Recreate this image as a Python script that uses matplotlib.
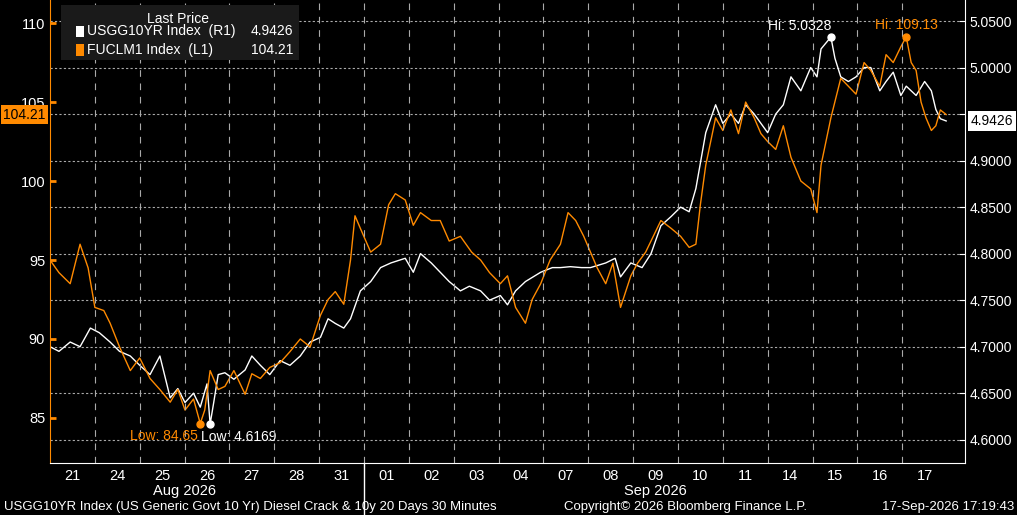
import numpy as np
import matplotlib.pyplot as plt

# trading-day positions (0 = start of 21 Aug)
days = ['21', '24', '25', '26', '27', '28', '31', '01', '02', '03',
        '04', '07', '08', '09', '10', '11', '14', '15', '16', '17']

diesel_t = [0, 0.2, 0.45, 0.67, 0.85, 1.0, 1.2, 1.34, 1.55, 1.79, 2.0, 2.23, 2.45, 2.68, 2.85,
            3.01, 3.2, 3.35, 3.45, 3.57, 3.75, 3.9, 4.1, 4.35, 4.5, 4.69, 4.9, 5.13, 5.35, 5.58,
            5.8, 6.03, 6.2, 6.36, 6.55, 6.7, 6.8, 6.92, 7.15, 7.37, 7.55, 7.7, 7.92, 8.1, 8.26,
            8.5, 8.7, 8.9, 9.15, 9.4, 9.6, 9.8, 10.04, 10.2, 10.38, 10.6, 10.75, 10.94, 11.15,
            11.38, 11.55, 11.72, 11.9, 12.05, 12.2, 12.39, 12.55, 12.72, 12.95, 13.1, 13.28,
            13.45, 13.62, 13.85, 14.06, 14.25, 14.4, 14.5, 14.62, 14.84, 15.0, 15.18, 15.35,
            15.51, 15.7, 15.85, 16.0, 16.18, 16.35, 16.52, 16.74, 16.96, 17.1, 17.19, 17.41,
            17.63, 17.8, 17.97, 18.15, 18.3, 18.5, 18.64, 18.8, 18.97, 19.09, 19.2, 19.31,
            19.42, 19.53, 19.65, 19.75, 19.85, 19.98]
diesel = [95.0, 94.2, 93.5, 96.0, 94.5, 92.0, 91.8, 91.0, 89.5, 88.0, 88.8, 87.5, 86.8, 86.0, 86.8,
          85.5, 86.2, 84.65, 85.5, 88.0, 86.8, 87.0, 88.0, 86.5, 87.8, 87.5, 88.2, 88.5, 89.2, 90.0,
          89.5, 91.5, 92.5, 93.0, 92.2, 95.0, 97.8, 97.0, 95.5, 96.0, 98.5, 99.2, 98.8, 97.2, 98.0,
          97.5, 97.5, 96.2, 96.5, 95.5, 95.0, 94.2, 93.5, 94.0, 92.0, 91.0, 92.5, 93.5, 95.0,
          96.0, 98.0, 97.5, 96.5, 95.5, 94.5, 93.5, 94.8, 92.0, 94.0, 94.8, 95.5,
          96.5, 97.5, 97.0, 96.5, 95.8, 96.0, 98.5, 101.0, 104.0, 103.2, 104.5, 103.0,
          105.0, 104.0, 103.0, 102.5, 102.0, 103.5, 101.5, 100.0, 99.5, 98.0, 101.0, 104.0,
          106.5, 106.0, 105.5, 107.5, 107.0, 106.0, 108.0, 107.5, 108.5, 109.13, 107.5, 107.0,
          105.0, 104.0, 103.2, 103.5, 104.5, 104.21]

yield_t = [0, 0.2, 0.45, 0.67, 0.9, 1.1, 1.34, 1.55, 1.79, 2.0, 2.23, 2.45, 2.68, 2.85, 3.01,
           3.2, 3.35, 3.5, 3.57, 3.65, 3.75, 3.9, 4.1, 4.35, 4.5, 4.69, 4.9, 5.13, 5.35, 5.58,
           5.8, 6.03, 6.2, 6.36, 6.55, 6.7, 6.92, 7.15, 7.37, 7.6, 7.92, 8.1, 8.26, 8.5, 8.7,
           8.9, 9.15, 9.35, 9.6, 9.8, 10.04, 10.2, 10.38, 10.6, 10.94, 11.2, 11.38, 11.6, 11.85,
           12.05, 12.39, 12.6, 12.72, 12.95, 13.2, 13.4, 13.62, 13.85, 14.06, 14.25, 14.4, 14.62,
           14.84, 15.0, 15.18, 15.35, 15.51, 15.7, 15.85, 16.0, 16.18, 16.35, 16.52, 16.74,
           16.96, 17.1, 17.19, 17.41, 17.5, 17.63, 17.8, 17.97, 18.15, 18.3, 18.5, 18.64, 18.8,
           18.97, 19.09, 19.31, 19.5, 19.65, 19.75, 19.85, 19.98]
yields = [4.700, 4.695, 4.705, 4.700, 4.720, 4.715, 4.705, 4.695, 4.690, 4.680, 4.670, 4.690, 4.645, 4.655, 4.640,
          4.650, 4.635, 4.660, 4.6169, 4.640, 4.670, 4.672, 4.665, 4.675, 4.690, 4.680, 4.670, 4.685, 4.680, 4.690,
          4.705, 4.710, 4.730, 4.725, 4.720, 4.730, 4.760, 4.770, 4.785, 4.790, 4.795, 4.780, 4.800, 4.790, 4.780,
          4.770, 4.760, 4.765, 4.760, 4.750, 4.755, 4.745, 4.760, 4.770, 4.780, 4.785, 4.785, 4.786, 4.785,
          4.785, 4.790, 4.795, 4.775, 4.790, 4.785, 4.800, 4.830, 4.840, 4.850, 4.845, 4.870, 4.930,
          4.960, 4.940, 4.950, 4.940, 4.960, 4.950, 4.940, 4.930, 4.950, 4.960, 4.990, 4.975,
          5.000, 4.990, 5.020, 5.0328, 5.010, 4.990, 4.985, 4.990, 5.000, 5.000, 4.975, 4.985, 4.995,
          4.970, 4.980, 4.970, 4.985, 4.975, 4.955, 4.945, 4.9426]

left_ticks = [85, 90, 95, 100, 105, 110]
right_ticks = [4.60, 4.65, 4.70, 4.75, 4.80, 4.85, 4.90, 4.95, 5.00, 5.05]

ORANGE = '#ff8a00'
plt.rcParams['font.family'] = ['Liberation Sans', 'DejaVu Sans']
fig = plt.figure(figsize=(10.17, 5.15), dpi=100, facecolor='black')
ax = fig.add_axes([50 / 1017, 52 / 515, 915 / 1017, 463 / 515], facecolor='black')
ax2 = ax.twinx()

ax2.plot(yield_t, yields, color='white', lw=1, zorder=3)
ax.plot(diesel_t, diesel, color=ORANGE, lw=1, zorder=2)
ax.set_zorder(ax2.get_zorder() + 1)
ax.patch.set_visible(False)
ax2.patch.set_facecolor('black')

ax.set_xlim(0, 20.4)
ax.set_ylim(82.15, 111.46)
ax2.set_ylim(4.575, 5.0726)

# grid
for v in right_ticks:
    ax2.axhline(v, color='#aaaaaa', ls=(0, (2, 2)), lw=0.8, zorder=0)
for d in range(1, 20):
    ax.axvline(d, color='#aaaaaa', ls=(0, (6, 6)), lw=0.8)
# month separator below axis
ax.plot([7, 7], [0, -0.12], transform=ax.get_xaxis_transform(), color='white',
        lw=1, clip_on=False)

ax.set_xticks([i + 0.5 for i in range(len(days))])
ax.set_xticklabels(days)
ax.tick_params(axis='x', colors='white', length=0, labelsize=10.5, pad=4)
ax.set_yticks(left_ticks)
ax.tick_params(axis='y', colors=ORANGE, labelcolor='white', labelsize=10.5, direction='in', length=4, width=2)
ax2.set_yticks(right_ticks)
ax2.set_yticklabels(['' if abs(v - 4.95) < 1e-9 else '%.4f' % v for v in right_ticks])
ax2.tick_params(axis='y', colors='white', labelsize=10, direction='in', length=4)
for a in (ax, ax2):
    for s in a.spines.values():
        s.set_visible(False)
ax.spines['left'].set_visible(True)
ax.spines['left'].set_color(ORANGE)
ax.spines['bottom'].set_visible(True)
ax.spines['bottom'].set_color('white')
ax2.spines['right'].set_visible(True)
ax2.spines['right'].set_color('white')

ax.text(3.0, -0.06, 'Aug 2026', transform=ax.get_xaxis_transform(), color='white',
        ha='center', va='center', fontsize=10.5)
ax.text(13.5, -0.06, 'Sep 2026', transform=ax.get_xaxis_transform(), color='white',
        ha='center', va='center', fontsize=10.5)

# last price tags
ax.annotate('%.2f' % diesel[-1], xy=(0, diesel[-1]), xycoords=('axes fraction', 'data'),
            xytext=(-3, 0), textcoords='offset points', ha='right', va='center', color='black',
            fontsize=10, bbox=dict(boxstyle='square,pad=0.15', fc=ORANGE, ec='none'))
ax2.annotate('%.4f' % yields[-1], xy=(1, yields[-1]), xycoords=('axes fraction', 'data'),
             xytext=(4, 0), textcoords='offset points', ha='left', va='center', color='black',
             fontsize=10, bbox=dict(boxstyle='square,pad=0.2', fc='white', ec='none'))

# hi / low markers
i = int(np.argmax(diesel))
ax.plot(diesel_t[i], diesel[i], 'o', color=ORANGE, ms=5)
ax.text(diesel_t[i], diesel[i] + 0.3, 'Hi: %.2f' % diesel[i], color=ORANGE, ha='center', va='bottom', fontsize=10)
i = int(np.argmin(diesel))
ax.plot(diesel_t[i], 84.6, 'o', color=ORANGE, ms=5)
ax.text(diesel_t[i] - 0.05, 84.3, 'Low: %.2f' % diesel[i], color=ORANGE, ha='right', va='top', fontsize=10)
j = int(np.argmin(yields))
ax2.plot(yield_t[j], yields[j], 'o', color='white', ms=5)
ax2.text(yield_t[j] - 0.2, yields[j] - 0.006, 'Low: %.4f' % yields[j], color='white', ha='left', va='top', fontsize=10)
j = int(np.argmax(yields))
ax2.plot(yield_t[j], yields[j], 'o', color='white', ms=5)
ax2.text(yield_t[j], yields[j] + 0.004, 'Hi: %.4f' % yields[j], color='white', ha='right', va='bottom', fontsize=10)

# legend box
ax.add_patch(plt.Rectangle((0.012, 0.87), 0.26, 0.12, transform=ax.transAxes, fc='#1a1a1a',
                           ec='none', zorder=5))
ax.text(0.14, 0.975, 'Last Price', transform=ax.transAxes, color='white', ha='center',
        va='top', fontsize=10, zorder=6)
rows = [('white', 'USGG10YR Index  (R1)', '%.4f' % yields[-1]),
        (ORANGE, 'FUCLM1 Index  (L1)', '%.2f' % diesel[-1])]
for k, (c, name, val) in enumerate(rows):
    y = 0.932 - k * 0.04
    ax.add_patch(plt.Rectangle((0.028, y - 0.012), 0.009, 0.024, transform=ax.transAxes,
                               fc=c, ec='none', zorder=6))
    ax.text(0.04, y, name, transform=ax.transAxes, color='white', va='center', fontsize=10, zorder=6)
    ax.text(0.266, y, val, transform=ax.transAxes, color='white', va='center', ha='right',
            fontsize=10, zorder=6)

fig.text(0.004, 0.003, 'USGG10YR Index (US Generic Govt 10 Yr) Diesel Crack & 10y 20 Days 30 Minutes',
         color='white', fontsize=9.5, va='bottom')
fig.text(0.555, 0.003, 'Copyright\u00a9 2026 Bloomberg Finance L.P.', color='white', fontsize=9.5, va='bottom')
fig.text(0.997, 0.003, '17-Sep-2026 17:19:43', color='white', fontsize=9.5, va='bottom', ha='right')

fig.savefig('out.png', facecolor='black')
